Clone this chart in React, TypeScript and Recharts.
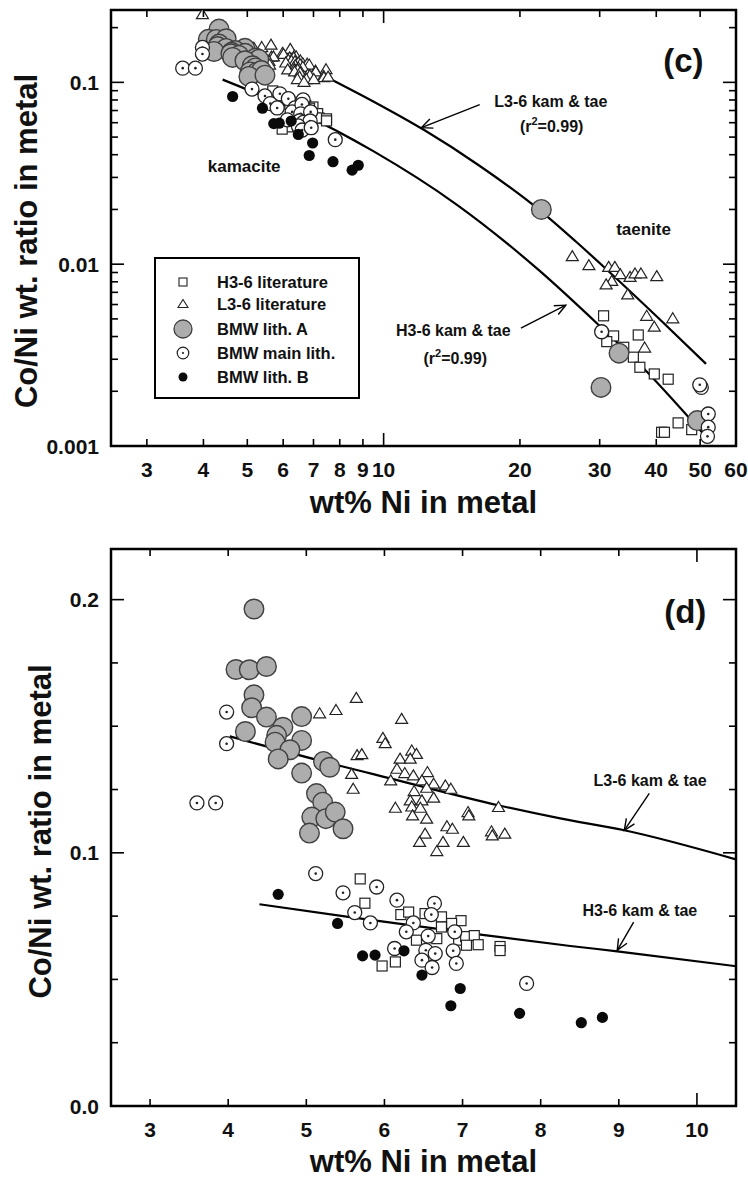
import React from 'react';
import {
  ScatterChart,
  Scatter,
  XAxis,
  YAxis,
  ReferenceArea,
  ReferenceDot,
  ReferenceLine,
  Legend,
  Label,
} from 'recharts';

const FONT = '"Liberation Sans", Arial, Helvetica, sans-serif';

// ---- data: [wt% Ni, Co/Ni] ----
const h36Literature: [number, number][] = [
  [5.69, 0.0897], [5.75, 0.0801], [6.21, 0.0756], [6.31, 0.0766], [6.52, 0.076],
  [6.73, 0.0747], [6.98, 0.0732], [6.86, 0.0721], [6.73, 0.0707], [6.41, 0.0655],
  [6.67, 0.0661], [6.95, 0.0655], [7.04, 0.0669], [7.15, 0.0673], [7.05, 0.0635],
  [7.2, 0.0637], [7.48, 0.063], [7.48, 0.0614], [6.14, 0.0569], [5.97, 0.0553],
  [30.6, 0.0052], [32.2, 0.00403], [31.1, 0.00375], [36.5, 0.00408], [33.9, 0.00349],
  [35.6, 0.00308], [36.8, 0.00271], [39.6, 0.00249], [42.5, 0.00233], [44.7, 0.00134],
  [41.1, 0.00119], [41.7, 0.00119], [47.9, 0.00123],
];

const l36Literature: [number, number][] = [
  [3.98, 0.237],
  [5.17, 0.1551], [5.38, 0.1564], [5.64, 0.1612], [6.22, 0.1529], [5.98, 0.1454],
  [6.01, 0.1433], [5.65, 0.1386], [5.71, 0.139], [6.2, 0.1372], [6.35, 0.1404],
  [6.41, 0.1391], [6.33, 0.1372], [5.58, 0.1312], [6.16, 0.1332], [6.26, 0.1315],
  [6.37, 0.1306], [6.55, 0.1319], [6.08, 0.1286], [6.48, 0.1286], [6.63, 0.1273],
  [6.54, 0.1257], [6.78, 0.1266], [6.85, 0.1253], [5.6, 0.1253], [6.38, 0.1244],
  [6.63, 0.1218], [6.33, 0.1207], [6.48, 0.1207], [6.35, 0.1183], [6.46, 0.1178],
  [6.14, 0.1178], [7.46, 0.1181], [7.07, 0.1161], [7.08, 0.1148], [6.36, 0.1148],
  [6.54, 0.1135], [6.8, 0.1105], [6.87, 0.1095], [7.37, 0.1085], [7.38, 0.1069],
  [7.54, 0.1076], [6.52, 0.1076], [6.45, 0.1043], [6.75, 0.1043], [7.01, 0.1043],
  [6.67, 0.1007],
  [26.1, 0.01107], [28.4, 0.00987], [31.4, 0.00967], [32.4, 0.00967], [33.3, 0.00881],
  [31.9, 0.0081], [31.0, 0.00774], [35.0, 0.00851], [35.9, 0.00889], [37.0, 0.00889],
  [40.1, 0.00859], [34.6, 0.00682], [38.1, 0.0052], [39.6, 0.00453], [43.5, 0.00504],
  [37.7, 0.00348],
];

const bmwLithA: [number, number][] = [
  [4.33, 0.1963], [4.1, 0.1724], [4.27, 0.1723], [4.49, 0.1736], [4.33, 0.1624],
  [4.3, 0.1573], [4.94, 0.1538], [4.49, 0.1536], [4.22, 0.1479], [4.7, 0.1496],
  [4.62, 0.1464], [4.6, 0.1437], [4.94, 0.1444], [4.79, 0.1407], [4.64, 0.1371],
  [5.22, 0.1361], [5.3, 0.1338], [4.94, 0.1315], [5.13, 0.1234], [5.21, 0.12],
  [5.07, 0.1141], [5.25, 0.1135], [5.37, 0.1161], [5.04, 0.1078], [5.47, 0.1095],
  [22.3, 0.02], [33.1, 0.00324], [30.2, 0.0021], [49.3, 0.00138],
];

const bmwMainLith: [number, number][] = [
  [3.98, 0.1556], [3.98, 0.1431], [3.6, 0.1197], [3.84, 0.1197], [5.12, 0.0918],
  [5.47, 0.0842], [5.9, 0.0865], [5.62, 0.0764], [5.82, 0.0723], [6.16, 0.0813],
  [6.37, 0.0723], [6.28, 0.0688], [6.64, 0.08], [6.6, 0.0756], [6.56, 0.0671],
  [6.9, 0.0688], [6.13, 0.0622], [6.53, 0.0615], [6.65, 0.0602], [6.88, 0.0613],
  [6.48, 0.0576], [6.61, 0.0547], [6.92, 0.0563], [7.82, 0.0484],
  [30.3, 0.00425], [50.3, 0.0021], [49.9, 0.00217], [52.1, 0.0015], [52.1, 0.00127],
  [51.9, 0.00113],
];

const bmwLithB: [number, number][] = [
  [4.64, 0.0836], [5.4, 0.0721], [5.72, 0.0593], [5.88, 0.0596], [6.25, 0.0613],
  [6.48, 0.0517], [6.97, 0.0464], [6.85, 0.0396], [7.73, 0.0366], [8.52, 0.0329],
  [8.79, 0.035],
];

// fitted curves as drawn
const l36FitLog: [number, number][] = [
  [7.53, 0.1061], [9.51, 0.0783], [12.24, 0.055], [16.25, 0.0349], [22.13, 0.01978],
  [26.69, 0.0132], [31.38, 0.00915], [40.43, 0.00506], [51.52, 0.00283],
];
const h36FitLog: [number, number][] = [
  [4.41, 0.1035], [6.54, 0.0682], [9.51, 0.0417], [14.47, 0.02134], [22.02, 0.00927],
  [29.85, 0.00463], [36.53, 0.00286], [50.76, 0.00117],
];
const l36FitLin: [number, number][] = [
  [4.02, 0.146], [5.3, 0.1354], [5.87, 0.131], [7.47, 0.1187], [8.25, 0.1136],
  [9.07, 0.1089], [10.5, 0.0974],
];
const h36FitLin: [number, number][] = [
  [4.4, 0.0797], [5.56, 0.0746], [7.28, 0.0675], [8.38, 0.0632], [8.98, 0.0611],
  [10.5, 0.0552],
];

// ticks
const xTicksLog = [3, 4, 5, 6, 7, 8, 9, 10, 20, 30, 40, 50, 60];
const xTicksLogLong = [10];
const yTicksLog = [
  0.001, 0.002, 0.003, 0.004, 0.005, 0.006, 0.007, 0.008, 0.009,
  0.01, 0.02, 0.03, 0.04, 0.05, 0.06, 0.07, 0.08, 0.09, 0.1, 0.2,
];
const yMajorLog = [0.001, 0.01, 0.1];
const yMajorLogText = ['0.001', '0.01', '0.1'];

const xTicksLin = [3, 4, 5, 6, 7, 8, 9, 10];
const xTicksLinLong = [10];
const yTicksLin = [0, 0.025, 0.05, 0.075, 0.1, 0.125, 0.15, 0.175, 0.2];
const yMajorLin = [0, 0.1, 0.2];
const yMajorLinText = ['0.0', '0.1', '0.2'];

const seriesNames = ['H3-6 literature', 'L3-6 literature', 'BMW lith. A', 'BMW main lith.', 'BMW lith. B'];

const pts = (a: [number, number][]) => a.map(([x, y]) => ({ x, y }));
const inLin = (a: [number, number][]) => a.filter(([x, y]) => x <= 10.5 && y <= 0.22);

// ---- marker shapes ----
const Square = (p: any) => (
  <rect x={p.cx - 5} y={p.cy - 5} width={10} height={10} fill="#fff" stroke="#222" strokeWidth={1.2} />
);
const Tri = (p: any) => (
  <path
    d={`M${p.cx},${p.cy - 5.5} L${p.cx + 6},${p.cy + 4.5} L${p.cx - 6},${p.cy + 4.5} Z`}
    fill="#fff"
    stroke="#222"
    strokeWidth={1.2}
  />
);
const GreyDot = (p: any) => <circle cx={p.cx} cy={p.cy} r={9.8} fill="#adadad" stroke="#404040" strokeWidth={1.4} />;
const Bullseye = (p: any) => (
  <g>
    <circle cx={p.cx} cy={p.cy} r={7} fill="#fff" stroke="#222" strokeWidth={1.3} />
    <circle cx={p.cx} cy={p.cy} r={1.3} fill="#222" />
  </g>
);
const BlackDot = (p: any) => <circle cx={p.cx} cy={p.cy} r={5.6} fill="#0a0a0a" />;
const NoShape = () => <g />;

const tickText = { fontFamily: FONT, fontWeight: 700, fontSize: 21, fill: '#111' } as const;
const noteText = { fontFamily: FONT, fontWeight: 700, fontSize: 16, fill: '#111' } as const;
const fitLine = { stroke: '#000', strokeWidth: 2.2 };

function makeXTick(longTicks: number[], plotH: number) {
  return (props: any) => {
    const { x, y, payload } = props;
    const v = payload.value as number;
    const len = longTicks.includes(v) ? 13 : 7;
    return (
      <g>
        <line x1={x} x2={x} y1={y} y2={y - len} stroke="#000" strokeWidth={1.6} />
        <line x1={x} x2={x} y1={y - plotH} y2={y - plotH + len} stroke="#000" strokeWidth={1.6} />
        <text x={x} y={y + 31} textAnchor="middle" style={tickText}>
          {v}
        </text>
      </g>
    );
  };
}

function makeYTick(major: number[], majorText: string[], plotW: number) {
  return (props: any) => {
    const { x, y, payload } = props;
    const v = payload.value as number;
    const i = major.findIndex((m) => Math.abs(m - v) < 1e-9);
    const len = i >= 0 ? 13 : 7;
    return (
      <g>
        <line x1={x} x2={x + len} y1={y} y2={y} stroke="#000" strokeWidth={1.6} />
        <line x1={x + plotW} x2={x + plotW - len} y1={y} y2={y} stroke="#000" strokeWidth={1.6} />
        {i >= 0 && (
          <text x={x - 12} y={y} dy="0.36em" textAnchor="end" style={tickText}>
            {majorText[i]}
          </text>
        )}
      </g>
    );
  };
}

const XTitle = ({ viewBox, drop }: any) => (
  <text
    x={viewBox.x + viewBox.width / 2}
    y={viewBox.y + drop}
    textAnchor="middle"
    style={{ fontFamily: FONT, fontWeight: 700, fontSize: 31, fill: '#111' }}
  >
    wt% Ni in metal
  </text>
);

const YTitle = ({ viewBox, cx, shift }: any) => {
  const cy = viewBox.y + viewBox.height / 2 + shift;
  return (
    <text
      x={cx}
      y={cy}
      dy="0.36em"
      textAnchor="middle"
      transform={`rotate(-90, ${cx}, ${cy})`}
      style={{ fontFamily: FONT, fontWeight: 700, fontSize: 31, fill: '#111' }}
    >
      Co/Ni wt. ratio in metal
    </text>
  );
};

const Arrow = (p: any) => {
  const { x1, y1, x2, y2 } = p;
  const a = Math.atan2(y2 - y1, x2 - x1);
  const L = 12;
  const w = 0.42;
  const ax = x2 - L * Math.cos(a - w);
  const ay = y2 - L * Math.sin(a - w);
  const bx = x2 - L * Math.cos(a + w);
  const by = y2 - L * Math.sin(a + w);
  return (
    <g>
      <line x1={x1} y1={y1} x2={x2} y2={y2} stroke="#000" strokeWidth={1.4} />
      <polyline points={`${ax},${ay} ${x2},${y2} ${bx},${by}`} fill="none" stroke="#000" strokeWidth={1.4} />
    </g>
  );
};

const textAt = (content: React.ReactNode, style: any = noteText) => (p: any) => (
  <text x={p.cx} y={p.cy} textAnchor="middle" style={style}>
    {content}
  </text>
);

const rSquared = (
  <>
    (r<tspan dy={-7} fontSize={11}>2</tspan>
    <tspan dy={7}>=0.99)</tspan>
  </>
);

const LegendBox = () => {
  const rows = [25, 47, 72, 96, 120];
  const sx = 29;
  const symbols = [
    <rect key="s" x={sx - 4} y={rows[0] - 4} width={8} height={8} fill="#fff" stroke="#222" strokeWidth={1.1} />,
    <path key="t" d={`M${sx},${rows[1] - 4.5} L${sx + 5},${rows[1] + 3.5} L${sx - 5},${rows[1] + 3.5} Z`} fill="#fff" stroke="#222" strokeWidth={1.1} />,
    <circle key="g" cx={sx} cy={rows[2]} r={9} fill="#adadad" stroke="#404040" strokeWidth={1.3} />,
    <g key="b">
      <circle cx={sx} cy={rows[3]} r={5.8} fill="#fff" stroke="#222" strokeWidth={1.2} />
      <circle cx={sx} cy={rows[3]} r={1.1} fill="#222" />
    </g>,
    <circle key="k" cx={sx} cy={rows[4]} r={4.5} fill="#0a0a0a" />,
  ];
  return (
    <svg width={206} height={142} style={{ display: 'block' }}>
      <rect x={1} y={1} width={204} height={140} fill="#fff" stroke="#000" strokeWidth={2} />
      {symbols}
      {seriesNames.map((n, i) => (
        <text key={n} x={63} y={rows[i] + 6} style={{ fontFamily: FONT, fontWeight: 700, fontSize: 16.5, fill: '#111' }}>
          {n}
        </text>
      ))}
    </svg>
  );
};

const PLOT_W = 625;

function LogPanel() {
  const plotH = 436;
  return (
    <ScatterChart width={748} height={530} margin={{ top: 10, right: 12, bottom: 0, left: 0 }}>
      <XAxis
        dataKey="x"
        type="number"
        scale="log"
        domain={[2.5, 60]}
        allowDataOverflow
        ticks={xTicksLog}
        interval={0}
        height={84}
        axisLine={false}
        tickLine={false}
        tickSize={0}
        tickMargin={0}
        tick={makeXTick(xTicksLogLong, plotH)}
      >
        <Label content={<XTitle drop={67} />} />
      </XAxis>
      <YAxis
        dataKey="y"
        type="number"
        scale="log"
        domain={[0.001, 0.25]}
        allowDataOverflow
        ticks={yTicksLog}
        interval={0}
        width={111}
        axisLine={false}
        tickLine={false}
        tickSize={0}
        tickMargin={0}
        tick={makeYTick(yMajorLog, yMajorLogText, PLOT_W)}
      >
        <Label content={<YTitle cx={26} shift={13} />} />
      </YAxis>
      <ReferenceArea x1={2.5} x2={60} y1={0.001} y2={0.25} fill="none" stroke="#000" strokeWidth={2.5} ifOverflow="visible" />

      <Scatter data={pts(l36FitLog)} line={fitLine} lineJointType="monotoneX" shape={NoShape} isAnimationActive={false} />
      <Scatter data={pts(h36FitLog)} line={fitLine} lineJointType="monotoneX" shape={NoShape} isAnimationActive={false} />

      <Scatter name={seriesNames[0]} data={pts(h36Literature)} shape={Square} isAnimationActive={false} />
      <Scatter name={seriesNames[1]} data={pts(l36Literature)} shape={Tri} isAnimationActive={false} />
      <Scatter name={seriesNames[2]} data={pts(bmwLithA)} shape={GreyDot} isAnimationActive={false} />
      <Scatter name={seriesNames[3]} data={pts(bmwMainLith)} shape={Bullseye} isAnimationActive={false} />
      <Scatter name={seriesNames[4]} data={pts(bmwLithB)} shape={BlackDot} isAnimationActive={false} />

      <ReferenceDot x={45.9} y={0.1145} r={0} shape={textAt('(c)', { ...noteText, fontSize: 33 })} />
      <ReferenceDot x={23.4} y={0.0736} r={0} shape={textAt('L3-6 kam & tae')} />
      <ReferenceDot x={23.5} y={0.053} r={0} shape={textAt(rSquared)} />
      <ReferenceLine segment={[{ x: 16.3, y: 0.0754 }, { x: 12.12, y: 0.0564 }]} shape={Arrow} />
      <ReferenceDot x={4.92} y={0.032} r={0} shape={textAt('kamacite', { ...noteText, fontSize: 17 })} />
      <ReferenceDot x={37.5} y={0.0144} r={0} shape={textAt('taenite', { ...noteText, fontSize: 17 })} />
      <ReferenceDot x={14.25} y={0.00403} r={0} shape={textAt('H3-6 kam & tae')} />
      <ReferenceDot x={14.39} y={0.00283} r={0} shape={textAt(rSquared)} />
      <ReferenceLine segment={[{ x: 20.1, y: 0.00445 }, { x: 25.25, y: 0.00595 }]} shape={Arrow} />

      <Legend
        layout="vertical"
        align="center"
        verticalAlign="middle"
        wrapperStyle={{ left: 154, top: 257, width: 206, height: 142 }}
        content={() => <LegendBox />}
      />
    </ScatterChart>
  );
}

function LinearPanel() {
  const plotH = 557;
  return (
    <ScatterChart width={748} height={649} margin={{ top: 19, right: 12, bottom: 0, left: 0 }}>
      <XAxis
        dataKey="x"
        type="number"
        domain={[2.5, 10.5]}
        allowDataOverflow
        ticks={xTicksLin}
        interval={0}
        height={73}
        axisLine={false}
        tickLine={false}
        tickSize={0}
        tickMargin={0}
        tick={makeXTick(xTicksLinLong, plotH)}
      >
        <Label content={<XTitle drop={66} />} />
      </XAxis>
      <YAxis
        dataKey="y"
        type="number"
        domain={[0, 0.22]}
        allowDataOverflow
        ticks={yTicksLin}
        interval={0}
        width={111}
        axisLine={false}
        tickLine={false}
        tickSize={0}
        tickMargin={0}
        tick={makeYTick(yMajorLin, yMajorLinText, PLOT_W)}
      >
        <Label content={<YTitle cx={40} shift={4} />} />
      </YAxis>
      <ReferenceArea x1={2.5} x2={10.5} y1={0} y2={0.22} fill="none" stroke="#000" strokeWidth={2.5} ifOverflow="visible" />

      <Scatter data={pts(l36FitLin)} line={fitLine} lineJointType="monotoneX" shape={NoShape} isAnimationActive={false} />
      <Scatter data={pts(h36FitLin)} line={fitLine} lineJointType="monotoneX" shape={NoShape} isAnimationActive={false} />

      <Scatter data={pts(inLin(h36Literature))} shape={Square} isAnimationActive={false} />
      <Scatter data={pts(inLin(l36Literature))} shape={Tri} isAnimationActive={false} />
      <Scatter data={pts(inLin(bmwLithA))} shape={GreyDot} isAnimationActive={false} />
      <Scatter data={pts(inLin(bmwMainLith))} shape={Bullseye} isAnimationActive={false} />
      <Scatter data={pts(inLin(bmwLithB))} shape={BlackDot} isAnimationActive={false} />

      <ReferenceDot x={9.85} y={0.1909} r={0} shape={textAt('(d)', { ...noteText, fontSize: 33 })} />
      <ReferenceDot x={9.4} y={0.1262} r={0} shape={textAt('L3-6 kam & tae')} />
      <ReferenceLine segment={[{ x: 9.39, y: 0.1235 }, { x: 9.07, y: 0.1089 }]} shape={Arrow} />
      <ReferenceDot x={9.27} y={0.075} r={0} shape={textAt('H3-6 kam & tae')} />
      <ReferenceLine segment={[{ x: 9.19, y: 0.0726 }, { x: 8.98, y: 0.0615 }]} shape={Arrow} />
    </ScatterChart>
  );
}

export default function App() {
  return (
    <div style={{ position: 'absolute', left: 0, top: 0, width: 748, height: 1179, background: '#fff' }}>
      <div style={{ position: 'absolute', left: 0, top: 0 }}>
        <LogPanel />
      </div>
      <div style={{ position: 'absolute', left: 0, top: 530 }}>
        <LinearPanel />
      </div>
    </div>
  );
}
